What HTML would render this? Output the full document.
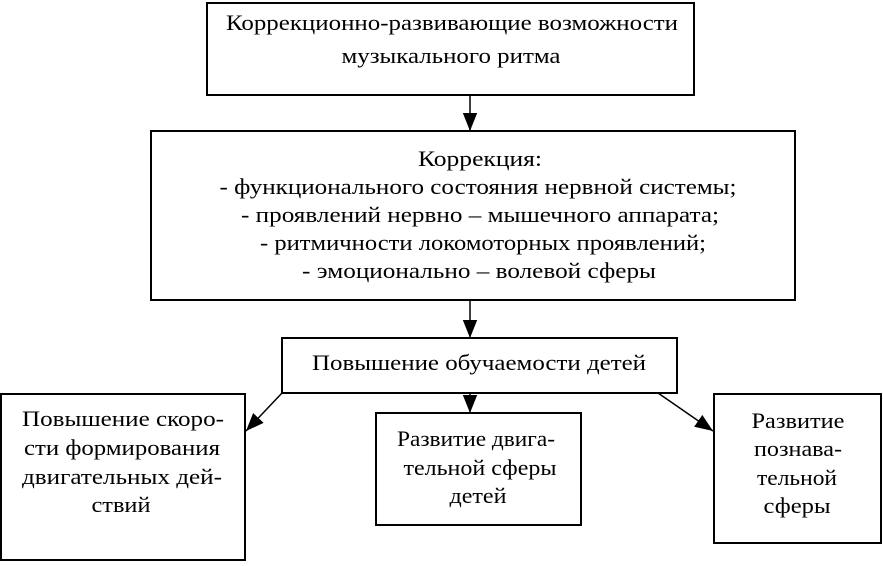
<!DOCTYPE html>
<html><head><meta charset="utf-8"><style>html,body{margin:0;padding:0;background:#fff}</style></head>
<body>
<svg width="883" height="561" viewBox="0 0 883 561" xmlns="http://www.w3.org/2000/svg" font-family="'Liberation Serif', serif" font-size="22" fill="#000">
<defs><marker id="a" viewBox="0 0 10 10" refX="10" refY="5" markerWidth="9" markerHeight="9" markerUnits="userSpaceOnUse" orient="auto"><path d="M0,0 L10,5 L0,10 z" fill="#000"/></marker>
<marker id="b" viewBox="0 0 10 10" refX="10" refY="5" markerWidth="18" markerHeight="18" markerUnits="userSpaceOnUse" orient="auto"><path d="M0,1 L10,5 L0,9 z" fill="#000"/></marker></defs>
<g fill="none" stroke="#000" stroke-width="2">
<rect x="207" y="3" width="487" height="92"/>
<rect x="151" y="131" width="644" height="169"/>
<rect x="282" y="338" width="395" height="55"/>
<rect x="1" y="394" width="244" height="166"/>
<rect x="376" y="413" width="205" height="112"/>
<rect x="714" y="394" width="167" height="149"/>
</g>
<g stroke="#000" stroke-width="1.5">
<line x1="470" y1="95" x2="470" y2="131" marker-end="url(#b)"/>
<line x1="470" y1="300" x2="470" y2="338" marker-end="url(#b)"/>
<line x1="470" y1="393" x2="470" y2="413" marker-end="url(#b)"/>
<line x1="282" y1="393" x2="246" y2="431" marker-end="url(#b)"/>
<line x1="658" y1="393" x2="713" y2="431" marker-end="url(#b)"/>
</g>
<g text-anchor="middle" lengthAdjust="spacingAndGlyphs">
<text x="452" y="30" textLength="452" lengthAdjust="spacingAndGlyphs">Коррекционно-развивающие возможности</text>
<text x="451" y="63" textLength="219" lengthAdjust="spacingAndGlyphs">музыкального ритма</text>
<text x="480" y="166" textLength="124" lengthAdjust="spacingAndGlyphs">Коррекция:</text>
<text x="478" y="194" textLength="517" lengthAdjust="spacingAndGlyphs">- функционального состояния нервной системы;</text>
<text x="480" y="222" textLength="478" lengthAdjust="spacingAndGlyphs">- проявлений нервно – мышечного аппарата;</text>
<text x="483" y="250" textLength="446" lengthAdjust="spacingAndGlyphs">- ритмичности локомоторных проявлений;</text>
<text x="479" y="278" textLength="354" lengthAdjust="spacingAndGlyphs">-  эмоционально – волевой сферы</text>
<text x="479" y="370" textLength="334" lengthAdjust="spacingAndGlyphs">Повышение обучаемости детей</text>
<text x="123" y="426" textLength="202" lengthAdjust="spacingAndGlyphs">Повышение скоро-</text>
<text x="122" y="455" textLength="196" lengthAdjust="spacingAndGlyphs">сти формирования</text>
<text x="122" y="484" textLength="200" lengthAdjust="spacingAndGlyphs">двигательных дей-</text>
<text x="121" y="512" textLength="59" lengthAdjust="spacingAndGlyphs">ствий</text>
<text x="476" y="446" textLength="158" lengthAdjust="spacingAndGlyphs">Развитие двига-</text>
<text x="480" y="475" textLength="153" lengthAdjust="spacingAndGlyphs">тельной сферы</text>
<text x="478" y="503" textLength="57" lengthAdjust="spacingAndGlyphs">детей</text>
<text x="798" y="428" textLength="93" lengthAdjust="spacingAndGlyphs">Развитие</text>
<text x="798" y="456" textLength="88" lengthAdjust="spacingAndGlyphs">познава-</text>
<text x="797" y="485" textLength="80" lengthAdjust="spacingAndGlyphs">тельной</text>
<text x="797" y="513" textLength="67" lengthAdjust="spacingAndGlyphs">сферы</text>
</g>
</svg>
</body></html>
